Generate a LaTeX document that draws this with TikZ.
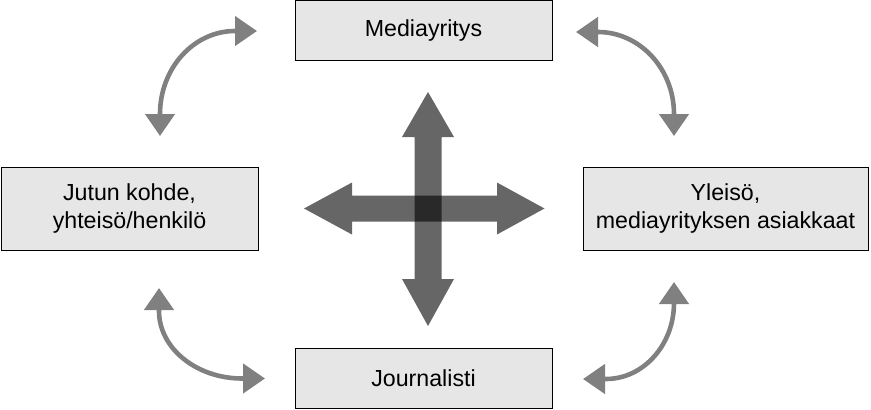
\documentclass[tikz,border=0pt]{standalone}
\usepackage{fontspec}
\setmainfont{Liberation Sans}
\usetikzlibrary{arrows.meta}
\definecolor{boxfill}{HTML}{E6E6E6}
\definecolor{curvecol}{HTML}{808080}
\begin{document}
\begin{tikzpicture}[x=1pt,y=-1pt,
  box/.style={draw=black,line width=1pt,fill=boxfill,inner sep=0pt,align=center,
    font=\fontsize{23.2}{28.5}\selectfont},
  curvearrow/.style={draw=curvecol,line width=4.6pt,
    {Triangle[length=22pt,width=29pt]}-{Triangle[length=22pt,width=29pt]}},
  crossarm/.style={fill=black,fill opacity=0.6}]
\useasboundingbox (0,0) rectangle (871,410);
% boxes
\node[box,minimum width=257pt,minimum height=60pt] (media) at (423.5,30.5) {Mediayritys};
\node[box,minimum width=257pt,minimum height=83pt] (kohde) at (129.5,208.5) {Jutun kohde,\\yhteisö/henkilö};
\node[box,minimum width=285pt,minimum height=83pt] (yleiso) at (725.5,208.5) {Yleisö,\\mediayrityksen asiakkaat};
\node[box,minimum width=257pt,minimum height=60pt] (journ) at (423.5,378.5) {Journalisti};
% central cross
\fill[crossarm] (428,92) -- (454,137) -- (441.5,137) -- (441.5,279) -- (454,279) -- (428,326)
  -- (402,279) -- (414.5,279) -- (414.5,137) -- (402,137) -- cycle;
\fill[crossarm] (304,208.5) -- (352,182.5) -- (352,195.5) -- (497,195.5) -- (497,182.5) -- (544.5,208.5)
  -- (497,234.5) -- (497,221.5) -- (352,221.5) -- (352,234.5) -- cycle;
% curved arrows
\coordinate (tlA) at (257,31);
\coordinate (tlB) at (160,136);
\draw[curvearrow] (tlA) -- (235,31) .. controls (193.6,31) and (160,68.4) .. (160,114) -- (tlB);
\coordinate (trA) at (576,32);
\coordinate (trB) at (674,136);
\draw[curvearrow] (trA) -- (598,32) .. controls (639.8,32) and (674,68.9) .. (674,114) -- (trB);
\coordinate (blA) at (159,288);
\coordinate (blB) at (265,378.5);
\draw[curvearrow] (blA) -- (159,311) .. controls (159,348.1) and (196.3,378.5) .. (242,378.5) -- (blB);
\coordinate (brA) at (674,282);
\coordinate (brB) at (583,379);
\draw[curvearrow] (brA) -- (674,303) .. controls (674,344.8) and (643.4,379) .. (606,379) -- (brB);
\end{tikzpicture}
\end{document}
